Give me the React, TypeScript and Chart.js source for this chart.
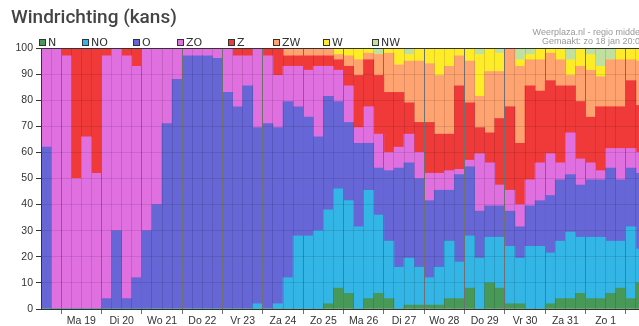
import React, { useEffect, useRef } from "react";
import { Chart, registerables } from "chart.js";
Chart.register(...registerables);

// ---- data ----
const dayLabels = ["Ma 19", "Di 20", "Wo 21", "Do 22", "Vr 23", "Za 24", "Zo 25", "Ma 26", "Di 27", "Wo 28", "Do 29", "Vr 30", "Za 31", "Zo 1"];
const allDays = ["Zo 18", ...dayLabels, "Ma 2"];
const slotHours = ["00u", "06u", "12u", "18u"];
const barLabels: string[] = [];
allDays.forEach((d, di) => {
  slotHours.forEach((h, hi) => {
    if (di === 0 && hi < 2) return;
    if (di === allDays.length - 1 && hi > 1) return;
    barLabels.push(d + " " + h);
  });
});

const seriesNames = ["N", "NO", "O", "ZO", "Z", "ZW", "W", "NW"];

const valN = [0,0,0,0,0,0,0,0,0,0, 0,0,0,0,0,0,0,0,0,0, 0,0,0,0,0,0,0,0,2,8, 6,0,4,6,4,0,1.5,1.5,1.5,1.5, 4,4,8,0,10,8,2,2,0,0, 2,4,4,6,4,4,6,8,4,10];
const valNO = [0,0,0,0,0,0,0,0,0,0, 0,0,0,0,0,0,0,0,0,0, 0,2,0,2,12,28,28,30,36,38, 35.5,31.5,41.5,30,22,16,18,14.5,10.5,14.5, 22,14,20,19.5,17.5,19.5,22,17.5,24,24, 19.5,22,25.5,21.5,23.5,23.5,20,18,27.5,13];
const valO = [62,0,0,0,0,0,4,30,4,12, 30,40,71,88,97,97,97,96,83,77.5, 85.5,67.5,71,67.5,67.5,49.5,45.5,36,43.5,33.5, 30,32,18,18,27,38,36.5,34,29.5,29.5, 19.5,33.5,26.5,18,12,12,13.5,12,15.5,17.5, 22,23.5,22,20,22,22,28,23.5,22.5,29];
const valZO = [38,100,97,50,66,52,93,70,93,81, 70,60,29,12,3,3,3,4,17,19.5, 11.5,30.5,26,20,13.5,15.5,18,27,11.5,12, 14,6,14,13,7,8,11,10,10.5,6.5, 7.5,2,2.5,22,16.5,8,8,8.5,10,14.5, 16,6.5,16,10,6.5,3.5,7.5,12,7.5,8];
const valZ = [0,0,3,50,34,48,3,0,3,7, 0,0,0,0,0,0,0,0,0,3, 3,0,3,10.5,4,4,5.5,4,4,4, 7.5,20,18,22.5,23,21,12,11.5,19.5,15, 14,32,22,10,11.5,25.5,32,23.5,36,27.5, 28,29.5,18,22,17.5,24.5,16,16,26,18];
const valZW = [0,0,0,0,0,0,0,0,0,0, 0,0,0,0,0,0,0,0,0,0, 0,0,0,0,3,3,3,3,3,2, 4,6,2.5,8,15,10.5,16,23.5,22.5,22.5, 26,11.5,16,12,23.5,18,22.5,29.5,10,12, 10.5,10,4,13.5,18,11.5,18,18,8,17];
const valW = [0,0,0,0,0,0,0,0,0,0, 0,0,0,0,0,0,0,0,0,0, 0,0,0,0,0,0,0,0,0,2.5, 3,4.5,2,0,2,6.5,2.5,5,6,10.5, 7,3,5,16,9,7,0,2.5,2,4.5, 2,4.5,6,7,6,4,0,4.5,4.5,5];
const valNW = [0,0,0,0,0,0,0,0,0,0, 0,0,0,0,0,0,0,0,0,0, 0,0,0,0,0,0,0,0,0,0, 0,0,0,2.5,0,0,2.5,0,0,0, 0,0,0,2.5,0,2,0,4.5,2.5,0, 0,0,4.5,0,2.5,7,4.5,0,0,0];

const seriesColors = ["#489858", "#33b5e5", "#6666d6", "#e070e0", "#f03a3a", "#ffa470", "#ffec28", "#c0e0a0"];
const legendX = [39, 82, 133, 177, 228, 273, 323, 372];

const CANVAS_W = 650;
const CANVAS_H = 326;
const AREA_LEFT = 41;
const AREA_RIGHT = 646;

export default function App() {
  const ref = useRef<HTMLCanvasElement>(null);
  useEffect(() => {
    const canvas = ref.current!;
    const series = [valN, valNO, valO, valZO, valZ, valZW, valW, valNW];
    const nBars = barLabels.length;
    const halfBar = (AREA_RIGHT - AREA_LEFT) / nBars / 2;
    const isDayStart = (i: number) => i >= 2 && (i - 2) % 4 === 0 && i < nBars;
    const isDayMid = (i: number) => i >= 3 && (i - 3) % 4 === 0 && (i - 3) / 4 < dayLabels.length;
    const sepColor = "rgba(0,0,0,0.12)";
    const dayColor = "#707070";

    const overlay = {
      id: "overlay",
      afterDraw(chart: any) {
        const ctx = chart.ctx;
        ctx.save();
        ctx.fillStyle = "#444";
        ctx.font = "500 19px Roboto";
        ctx.textBaseline = "alphabetic";
        ctx.textAlign = "left";
        ctx.fillText("Windrichting (kans)", 11, 23);
        // legend
        ctx.font = "11px 'DejaVu Sans'";
        seriesNames.forEach((name, i) => {
          const x = legendX[i];
          ctx.fillStyle = seriesColors[i];
          ctx.fillRect(x, 39, 6, 6);
          ctx.strokeStyle = "#333";
          ctx.lineWidth = 1;
          ctx.strokeRect(x + 0.5, 39.5, 6, 6);
          ctx.fillStyle = "#333";
          ctx.fillText(name, x + 9, 46);
        });
        // source text
        ctx.font = "9px 'Liberation Sans'";
        ctx.fillStyle = "#999";
        ctx.textAlign = "right";
        ctx.fillText("Weerplaza.nl - regio midden", 645, 35);
        ctx.fillText("Gemaakt: zo 18 jan 20:00", 645, 44);
        ctx.restore();
      },
    };

    const chart = new Chart(canvas, {
      type: "bar",
      data: {
        labels: barLabels,
        datasets: series.map((d, i) => ({
          label: seriesNames[i],
          data: d,
          backgroundColor: seriesColors[i],
          borderWidth: 0,
          barPercentage: 1,
          categoryPercentage: 1,
        })),
      },
      options: {
        responsive: false,
        animation: false,
        devicePixelRatio: 1,
        layout: { padding: { top: 48, right: CANVAS_W - AREA_RIGHT, left: 0, bottom: 0 } },
        plugins: {
          legend: { display: false },
          tooltip: { enabled: false },
          title: { display: false },
        },
        scales: {
          x: {
            type: "category",
            stacked: true,
            afterFit: (s: any) => {
              s.height = 17;
            },
            ticks: {
              autoSkip: false,
              maxRotation: 0,
              minRotation: 0,
              padding: 1,
              labelOffset: halfBar,
              color: "#333",
              font: { family: "'Liberation Sans', Arial", size: 10.5 },
              callback: (_v: any, i: number) => (isDayMid(i) ? dayLabels[(i - 3) / 4] : ""),
            },
            grid: {
              z: 1,
              offset: true,
              color: (c: any) => (c.index !== undefined && isDayStart(c.index) ? dayColor : sepColor),
              tickColor: (c: any) => (c.index !== undefined && isDayStart(c.index) ? dayColor : "rgba(0,0,0,0)"),
              tickLength: 5,
              drawTicks: true,
            },
            border: { display: true, color: "#333", z: 2 },
          },
          y: {
            stacked: true,
            min: 0,
            max: 100,
            afterFit: (s: any) => {
              s.width = AREA_LEFT;
            },
            ticks: {
              stepSize: 10,
              padding: 3,
              color: "#333",
              font: { family: "'Liberation Sans', Arial", size: 10.5 },
            },
            grid: {
              z: 1,
              color: (c: any) => (c.tick && c.tick.value === 100 ? "#333" : "rgba(0,0,0,0.1)"),
              tickColor: "#333",
              tickLength: 5,
              drawTicks: true,
            },
            border: { display: true, color: "#333", z: 2 },
          },
        },
      } as any,
      plugins: [overlay],
    });
    return () => chart.destroy();
  }, []);
  return (
    <div style={{ position: "absolute", left: 0, top: 0, width: 639, height: 326, overflow: "hidden", background: "#fff" }}>
      <canvas ref={ref} width={CANVAS_W} height={CANVAS_H} style={{ display: "block", width: CANVAS_W, height: CANVAS_H }} />
    </div>
  );
}
